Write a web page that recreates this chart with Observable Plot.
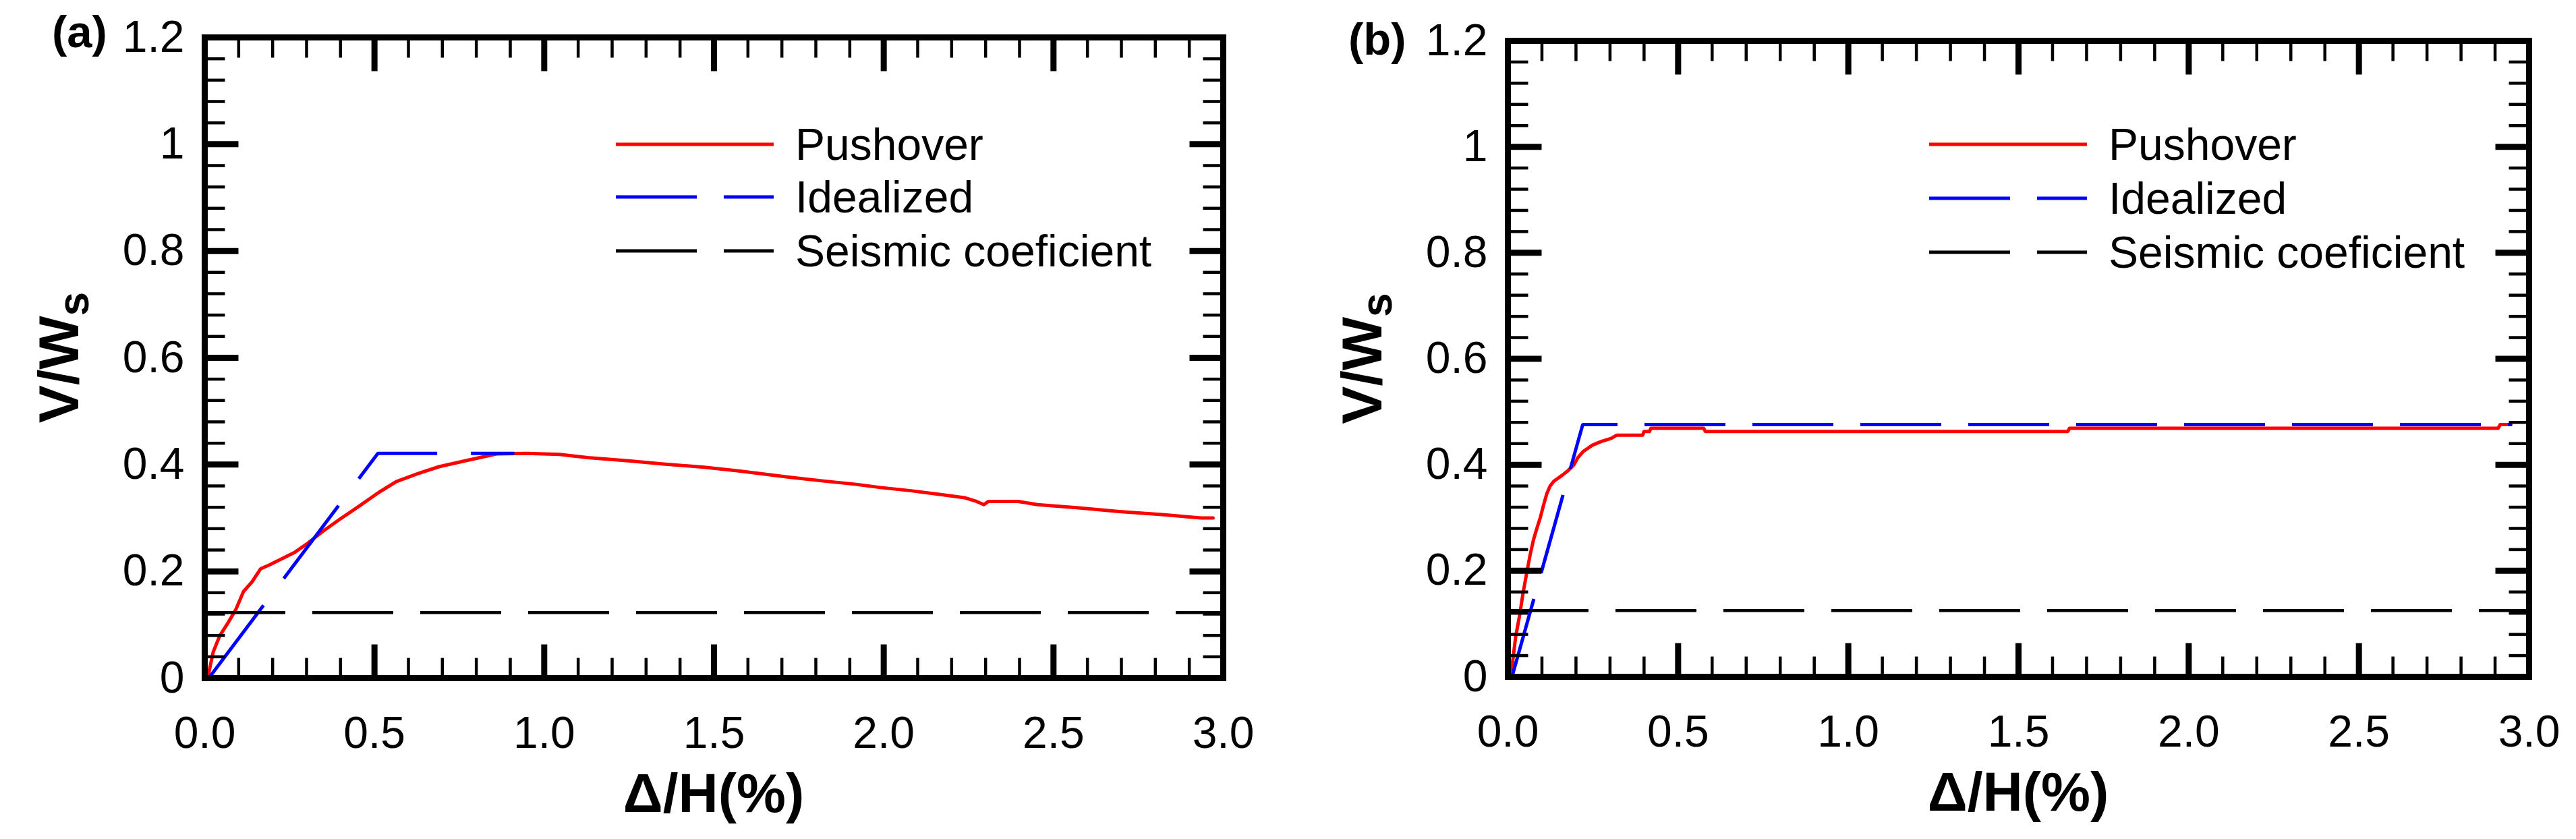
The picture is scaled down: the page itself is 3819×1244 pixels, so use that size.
<!DOCTYPE html>
<html><head><meta charset="utf-8">
<script src="https://cdn.jsdelivr.net/npm/d3@7"></script>
<script src="https://cdn.jsdelivr.net/npm/@observablehq/plot@0.6"></script>
<style>
html,body{margin:0;padding:0;background:#fff;overflow:hidden}
#wrap{display:flex;width:3819px;height:1244px}
svg text{font-family:'Liberation Sans',Arial,sans-serif}
</style></head><body><div id="wrap"></div>
<script>
// ---------- data ----------
const pushA_x = [0,0.012,0.025,0.044,0.07,0.092,0.114,0.139,0.165,0.19,0.222,0.266,0.304,0.348,0.399,0.45,0.513,0.564,0.627,0.69,0.767,0.817,0.86,0.95,1.045,1.128,1.248,1.351,1.471,1.573,1.649,1.725,1.826,1.919,1.991,2.08,2.168,2.238,2.273,2.295,2.308,2.396,2.453,2.574,2.694,2.827,2.935,2.97];
const pushA_y = [0,0.01,0.049,0.079,0.105,0.129,0.162,0.18,0.205,0.212,0.222,0.236,0.253,0.275,0.298,0.32,0.348,0.368,0.383,0.396,0.407,0.414,0.42,0.421,0.419,0.413,0.407,0.401,0.395,0.388,0.382,0.376,0.369,0.363,0.357,0.351,0.344,0.338,0.331,0.325,0.331,0.331,0.325,0.319,0.312,0.306,0.300,0.300];
const idealA_x = [0.012,0.51,0.912];
const idealA_y = [0,0.421,0.421];
const seismicA = 0.123;

const pushB_x = [0,0.01,0.023,0.035,0.044,0.055,0.065,0.075,0.085,0.095,0.104,0.114,0.124,0.135,0.159,0.175,0.194,0.205,0.221,0.248,0.274,0.304,0.32,0.396,0.40,0.416,0.42,0.575,0.58,1.645,1.65,2.909,2.915,2.946];
const pushB_y = [0,0.008,0.076,0.118,0.156,0.195,0.229,0.258,0.28,0.30,0.322,0.345,0.36,0.369,0.38,0.388,0.40,0.413,0.425,0.437,0.444,0.45,0.456,0.456,0.463,0.463,0.469,0.469,0.463,0.463,0.469,0.469,0.476,0.476];
const idealB_x = [0.012,0.22,2.95];
const idealB_y = [0,0.476,0.476];
const seismicB = 0.125;

const xTicks = [0,0.5,1,1.5,2,2.5,3];
const xMinor = [0.1,0.2,0.3,0.4,0.6,0.7,0.8,0.9,1.1,1.2,1.3,1.4,1.6,1.7,1.8,1.9,2.1,2.2,2.3,2.4,2.6,2.7,2.8,2.9];
const yTicks = [0,0.2,0.4,0.6,0.8,1,1.2];
const yMinor = [0.04,0.08,0.12,0.16,0.24,0.28,0.32,0.36,0.44,0.48,0.52,0.56,0.64,0.68,0.72,0.76,0.84,0.88,0.92,0.96,1.04,1.08,1.12,1.16];
const seriesNames = ["Pushover","Idealized","Seismic coeficient"];
const seriesColors = ["#ff0000","#0000ff","#000000"];
const panelLabels = ["(a)","(b)"];
const xLabel = "Δ/H(%)";
const yLabelMain = "V/W", yLabelSub = "s";

// ---------- layout ----------
const panels = [
  {w:1910, mL:303, mR:97, mT:55, mB:239, legX:610, legY:[159,237,317], labX:-226, labY:15, idealDash:"135,50",
   push:[pushA_x,pushA_y], ideal:[idealA_x,idealA_y], seismic:seismicA, label:panelLabels[0]},
  {w:1909, mL:325, mR:70, mT:60, mB:241, legX:625, legY:[154,234,314], labX:-236, labY:21, idealDash:"120,40",
   push:[pushB_x,pushB_y], ideal:[idealB_x,idealB_y], seismic:seismicB, label:panelLabels[1]}
];
const H = 1244;
const tickShape = {draw(c, l) { c.moveTo(0, 0); c.lineTo(0, -l); }};
const tv = (data, ch, anchor, rot, len, sw) => Plot.vector(data, {
  [ch]: d => d, frameAnchor: anchor, rotate: rot, length: len, anchor: "start",
  shape: tickShape, stroke: "black", strokeWidth: sw, strokeLinecap: "butt"
});

const wrap = document.getElementById("wrap");
panels.forEach(p => {
  const [px, py] = p.push, [ix, iy] = p.ideal;
  const svgEl = Plot.plot({
    width: p.w, height: H,
    marginLeft: p.mL, marginRight: p.mR, marginTop: p.mT, marginBottom: p.mB,
    style: {fontFamily: "'Liberation Sans', Arial, sans-serif", fontSize: "66px", color: "black", background: "white", overflow: "visible"},
    x: {domain: [0, 3]},
    y: {domain: [0, 1.2]},
    marks: [
      Plot.line({length: px.length}, {x: px, y: py, stroke: seriesColors[0], strokeWidth: 5}),
      Plot.line({length: ix.length}, {x: ix, y: iy, stroke: seriesColors[1], strokeWidth: 5, strokeDasharray: p.idealDash, strokeLinecap: "butt", strokeLinejoin: "miter"}),
      Plot.ruleY([p.seismic], {stroke: seriesColors[2], strokeWidth: 4.5, strokeDasharray: "120,40"}),
      tv(xTicks, "x", "bottom", 0, 50, 9), tv(xMinor, "x", "bottom", 0, 30, 4.5),
      tv(xTicks, "x", "top", 180, 50, 9), tv(xMinor, "x", "top", 180, 30, 4.5),
      tv(yTicks, "y", "left", 90, 50, 9), tv(yMinor, "y", "left", 90, 30, 4.5),
      tv(yTicks, "y", "right", 270, 50, 9), tv(yMinor, "y", "right", 270, 30, 4.5),
      Plot.frame({stroke: "black", strokeWidth: 9}),
      Plot.axisX(xTicks, {anchor: "bottom", tickSize: 0, tickPadding: 57, tickFormat: d => d.toFixed(1), fontSize: 66}),
      Plot.axisY(yTicks, {anchor: "left", tickSize: 0, tickPadding: 30, tickFormat: d => String(+d.toFixed(1)), fontSize: 66})
    ]
  });
  const svg = d3.select(svgEl);
  const L = p.mL, T = p.mT, R = p.w - p.mR, B = H - p.mB;
  // panel label
  svg.append("text").attr("x", L + p.labX).attr("y", T + p.labY).attr("text-anchor", "start")
    .attr("font-size", 67).attr("font-weight", "bold").attr("fill", "black").text(p.label);
  // x label
  svg.append("text").attr("x", (L + R) / 2).attr("y", B + 199).attr("text-anchor", "middle")
    .attr("font-size", 82).attr("font-weight", "bold").attr("fill", "black").text(xLabel);
  // y label
  const yl = svg.append("text").attr("transform", `translate(${L - 187},${(T + B) / 2}) rotate(-90)`)
    .attr("text-anchor", "middle").attr("font-size", 84).attr("font-weight", "bold").attr("fill", "black");
  yl.append("tspan").text(yLabelMain);
  yl.append("tspan").attr("font-size", 64).attr("dy", 15).text(yLabelSub);
  // legend
  const dashes = [null, "120,40", "120,40"];
  seriesNames.forEach((name, i) => {
    const yy = T + p.legY[i];
    svg.append("line").attr("x1", L + p.legX).attr("x2", L + p.legX + 234).attr("y1", yy).attr("y2", yy)
      .attr("stroke", seriesColors[i]).attr("stroke-width", 5).attr("stroke-dasharray", dashes[i]);
    svg.append("text").attr("x", L + p.legX + 266).attr("y", yy + 23).attr("text-anchor", "start")
      .attr("font-size", 66).attr("fill", "black").text(name);
  });
  wrap.appendChild(svgEl);
});
</script></body></html>
